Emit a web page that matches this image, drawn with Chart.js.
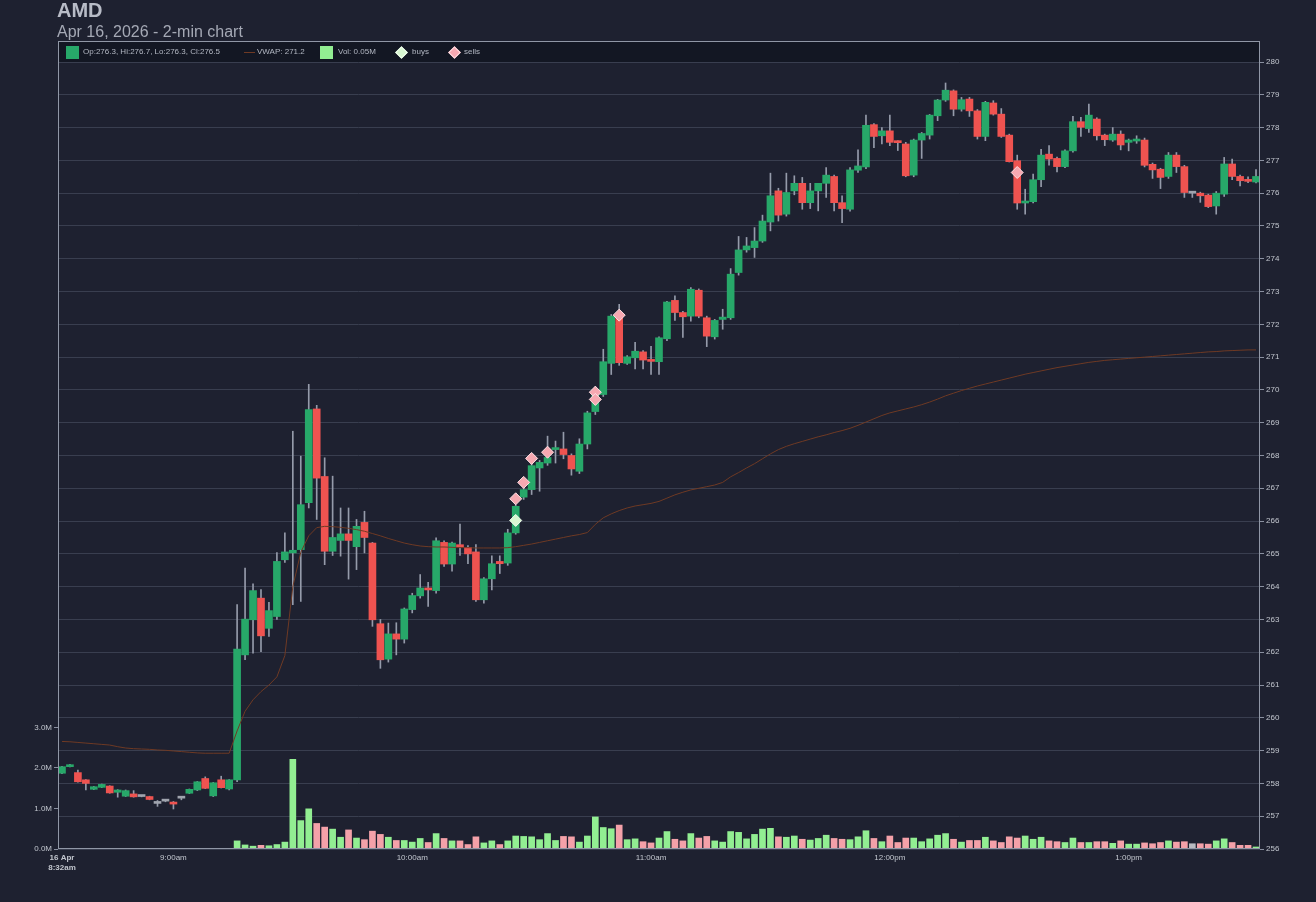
<!DOCTYPE html>
<html>
<head>
<meta charset="utf-8">
<title>AMD - 2-min chart</title>
<script src="https://cdn.jsdelivr.net/npm/chart.js@4.4.1/dist/chart.umd.min.js"></script>
<style>
  html, body { margin: 0; padding: 0; background: #1e2130; overflow: hidden; }
  body { width: 1316px; height: 902px; position: relative; font-family: "Liberation Sans", Arial, sans-serif; }
  #wrap { position: absolute; left: 0; top: 0; width: 1316px; height: 902px; }
  .abs { position: absolute; white-space: nowrap; z-index: 2; }
  #title { left: 57px; top: 0px; font-size: 20px; line-height: 20px; font-weight: bold; color: #b8bcc7; }
  #sub { left: 57px; top: 24px; font-size: 16px; line-height: 16px; color: #a5a9b5; }
  .lg { top: 47px; font-size: 8px; line-height: 10px; color: #b3b8c3; }
  .sq { top: 46px; width: 13px; height: 13px; }
  .dm { top: 48px; width: 9px; height: 9px; transform: rotate(45deg); box-sizing: border-box; }
  .ln { top: 52px; width: 11px; height: 1px; }
</style>
</head>
<body>
<div id="wrap"><canvas id="chart"></canvas></div>
<div id="title" class="abs">AMD</div>
<div id="sub" class="abs">Apr 16, 2026 - 2-min chart</div>
<div id="legend"></div>
<script>
// 2-min candles, 8:32am .. 1:32pm
const times = [];
for (let m = 8 * 60 + 32; m <= 13 * 60 + 32; m += 2) {
    const h = Math.floor(m / 60), mm = m % 60;
    times.push(`${h > 12 ? h - 12 : h}:${String(mm).padStart(2, '0')}${h >= 12 ? 'pm' : 'am'}`);
}

const opens = [
    258.31, 258.51, 258.33, 258.11, 257.82, 257.88, 257.92, 257.73, 257.61, 257.68,
    257.60, 257.60, 257.39, 257.46, 257.43, 257.55, 257.70, 257.80, 258.15, 257.62,
    258.11, 257.83, 258.11, 261.92, 262.99, 263.65, 262.73, 263.09, 264.82, 265.03,
    265.13, 266.56, 269.42, 267.36, 265.08, 265.41, 265.61, 265.22, 265.96, 265.33,
    262.87, 261.79, 262.56, 262.40, 263.30, 263.72, 263.92, 263.88, 265.35, 264.69,
    265.28, 265.20, 265.06, 263.60, 264.24, 264.77, 264.72, 265.64, 266.73, 266.96,
    267.62, 267.77, 268.18, 268.20, 268.00, 267.52, 268.35, 269.34, 269.86, 270.81,
    272.20, 270.81, 270.98, 271.16, 270.89, 270.86, 271.56, 272.73, 272.36, 272.25,
    273.04, 272.20, 271.62, 272.15, 272.20, 273.58, 274.27, 274.34, 274.54, 275.12,
    276.07, 275.36, 276.07, 276.30, 275.71, 276.07, 276.30, 276.51, 275.71, 275.51,
    276.70, 276.80, 278.09, 277.75, 277.90, 277.56, 277.50, 276.55, 277.62, 277.77,
    278.36, 278.84, 279.12, 278.56, 278.87, 278.51, 277.73, 278.75, 278.41, 277.77,
    276.99, 275.70, 275.74, 276.41, 277.19, 277.06, 276.81, 277.29, 278.18, 277.97,
    278.26, 277.77, 277.62, 277.80, 277.55, 277.59, 277.62, 276.88, 276.73, 276.51,
    277.16, 276.81, 276.00, 276.00, 275.94, 275.61, 275.97, 276.89, 276.51, 276.39,
    276.34
];
const highs = [
    258.52, 258.58, 258.41, 258.12, 257.91, 257.98, 257.93, 257.81, 257.80, 257.78,
    257.61, 257.61, 257.48, 257.50, 257.45, 257.60, 257.83, 258.06, 258.20, 258.03,
    258.22, 258.12, 263.45, 264.57, 264.09, 263.91, 263.52, 265.04, 265.64, 268.74,
    267.98, 270.17, 269.53, 267.93, 267.37, 266.40, 266.40, 266.05, 266.30, 265.35,
    263.00, 262.89, 262.90, 263.35, 263.80, 264.37, 264.13, 265.49, 265.40, 265.36,
    265.91, 265.25, 265.28, 264.28, 264.94, 264.94, 265.75, 266.50, 267.00, 267.75,
    267.85, 268.59, 268.44, 268.71, 268.05, 268.51, 269.35, 270.10, 271.24, 272.30,
    272.61, 271.05, 271.45, 271.20, 271.33, 271.62, 272.70, 272.87, 272.40, 273.12,
    273.08, 272.25, 272.15, 272.46, 273.70, 274.68, 274.65, 274.95, 275.33, 276.61,
    276.15, 276.61, 276.53, 276.48, 276.30, 276.30, 276.78, 276.55, 275.92, 276.78,
    277.32, 278.38, 278.12, 278.00, 278.38, 277.60, 277.55, 277.65, 277.85, 278.40,
    278.86, 279.36, 279.15, 278.92, 278.92, 278.55, 278.80, 278.82, 278.58, 277.80,
    277.16, 276.12, 276.58, 277.34, 277.45, 277.10, 277.32, 278.34, 278.31, 278.72,
    278.30, 277.80, 278.00, 277.90, 277.65, 277.75, 277.68, 276.92, 276.76, 277.24,
    277.24, 276.85, 276.05, 276.03, 275.97, 276.05, 277.09, 277.04, 276.55, 276.50,
    276.72
];
const lows = [
    258.30, 258.50, 258.04, 257.80, 257.81, 257.87, 257.70, 257.58, 257.60, 257.58,
    257.59, 257.50, 257.30, 257.44, 257.22, 257.50, 257.69, 257.78, 257.84, 257.60,
    257.86, 257.80, 258.05, 261.77, 261.97, 262.02, 262.48, 263.00, 264.74, 263.45,
    263.55, 266.40, 266.05, 264.67, 264.95, 264.93, 264.23, 264.52, 265.03, 262.79,
    261.51, 261.70, 261.92, 262.28, 263.20, 263.65, 263.40, 263.80, 264.62, 264.47,
    264.95, 264.70, 263.55, 263.50, 263.90, 264.40, 264.65, 265.60, 266.66, 266.81,
    266.91, 267.70, 267.77, 267.90, 267.40, 267.45, 268.20, 269.25, 269.80, 270.47,
    270.75, 270.78, 270.64, 270.64, 270.47, 270.47, 271.50, 272.12, 271.60, 272.10,
    272.20, 271.32, 271.55, 271.85, 272.15, 273.50, 274.20, 274.04, 274.50, 274.85,
    275.15, 275.30, 275.95, 275.51, 275.53, 275.46, 275.87, 275.46, 275.10, 275.45,
    276.63, 276.75, 277.39, 277.50, 277.45, 277.30, 276.50, 276.50, 277.06, 277.65,
    278.21, 278.80, 278.36, 278.50, 278.34, 277.65, 277.60, 278.38, 277.70, 276.95,
    275.51, 275.36, 275.70, 276.20, 276.85, 276.65, 276.78, 277.25, 277.73, 277.85,
    277.62, 277.45, 277.58, 277.32, 277.29, 277.52, 276.80, 276.45, 276.14, 276.45,
    276.63, 275.87, 275.87, 275.72, 275.56, 275.36, 275.90, 276.41, 276.22, 276.32,
    276.31
];
const closes = [
    258.51, 258.54, 258.05, 258.00, 257.90, 257.97, 257.71, 257.80, 257.78, 257.59,
    257.60, 257.51, 257.39, 257.46, 257.37, 257.55, 257.82, 258.05, 257.85, 258.02,
    257.87, 258.11, 262.10, 263.01, 263.88, 262.50, 263.27, 264.77, 265.06, 265.11,
    266.50, 269.40, 267.31, 265.08, 265.50, 265.61, 265.41, 265.84, 265.50, 262.99,
    261.77, 262.56, 262.40, 263.32, 263.73, 263.96, 263.90, 265.40, 264.69, 265.33,
    265.20, 265.00, 263.60, 264.24, 264.70, 264.70, 265.64, 266.45, 266.96, 267.69,
    267.79, 267.94, 268.22, 268.03, 267.59, 268.35, 269.30, 270.00, 270.86, 272.25,
    270.83, 271.01, 271.18, 270.91, 270.87, 271.59, 272.68, 272.36, 272.23, 273.07,
    272.25, 271.64, 272.12, 272.22, 273.53, 274.27, 274.39, 274.54, 275.15, 275.92,
    275.33, 276.02, 276.30, 275.71, 276.07, 276.30, 276.55, 275.71, 275.53, 276.71,
    276.83, 278.07, 277.73, 277.90, 277.55, 277.54, 276.53, 277.62, 277.82, 278.38,
    278.84, 279.14, 278.56, 278.85, 278.51, 277.73, 278.77, 278.41, 277.73, 276.96,
    275.70, 275.72, 276.41, 277.16, 277.04, 276.81, 277.29, 278.18, 278.01, 278.38,
    277.75, 277.63, 277.80, 277.47, 277.62, 277.65, 276.85, 276.71, 276.48, 277.16,
    276.81, 276.02, 276.00, 275.92, 275.59, 276.00, 276.89, 276.51, 276.38, 276.36,
    276.51
];
// volume in millions
const volumes = [
    0, 0, 0, 0, 0, 0, 0.01, 0.01, 0, 0,
    0, 0, 0, 0, 0.01, 0, 0, 0, 0, 0,
    0, 0, 0.20, 0.10, 0.07, 0.09, 0.08, 0.11, 0.17, 2.21,
    0.70, 0.99, 0.63, 0.54, 0.49, 0.29, 0.47, 0.27, 0.23, 0.44,
    0.36, 0.29, 0.21, 0.21, 0.17, 0.26, 0.16, 0.38, 0.26, 0.20,
    0.20, 0.11, 0.30, 0.15, 0.20, 0.11, 0.20, 0.32, 0.31, 0.30,
    0.23, 0.38, 0.21, 0.31, 0.30, 0.17, 0.32, 0.79, 0.53, 0.50,
    0.59, 0.23, 0.25, 0.18, 0.15, 0.27, 0.43, 0.24, 0.20, 0.38,
    0.27, 0.31, 0.20, 0.17, 0.43, 0.41, 0.25, 0.36, 0.49, 0.51,
    0.30, 0.29, 0.32, 0.24, 0.22, 0.26, 0.34, 0.26, 0.24, 0.23,
    0.30, 0.45, 0.26, 0.18, 0.32, 0.16, 0.27, 0.27, 0.18, 0.25,
    0.34, 0.38, 0.24, 0.17, 0.21, 0.21, 0.29, 0.20, 0.16, 0.30,
    0.27, 0.32, 0.24, 0.29, 0.20, 0.18, 0.16, 0.27, 0.16, 0.16,
    0.18, 0.18, 0.14, 0.20, 0.12, 0.12, 0.15, 0.13, 0.16, 0.20,
    0.17, 0.18, 0.13, 0.13, 0.12, 0.20, 0.25, 0.16, 0.09, 0.09,
    0.05
];
const vwap = [
    259.28, 259.27, 259.25, 259.23, 259.21, 259.19, 259.17, 259.12, 259.08, 259.06,
    259.05, 259.04, 259.02, 259.01, 258.99, 258.97, 258.95, 258.93, 258.92, 258.92,
    258.92, 258.92, 259.60, 260.20, 260.55, 260.80, 261.00, 261.25, 261.90, 264.00,
    265.05, 265.55, 265.80, 265.84, 265.83, 265.81, 265.78, 265.74, 265.69, 265.62,
    265.55, 265.47, 265.40, 265.33, 265.28, 265.24, 265.22, 265.21, 265.21, 265.20,
    265.19, 265.19, 265.18, 265.18, 265.18, 265.18, 265.19, 265.22, 265.26, 265.30,
    265.35, 265.40, 265.45, 265.50, 265.55, 265.59, 265.65, 265.90, 266.10, 266.22,
    266.32, 266.40, 266.46, 266.50, 266.54, 266.60, 266.70, 266.80, 266.88, 266.95,
    267.00, 267.05, 267.10, 267.18, 267.35, 267.48, 267.62, 267.75, 267.90, 268.05,
    268.18, 268.28, 268.36, 268.43, 268.50, 268.57, 268.63, 268.70, 268.76, 268.83,
    268.92, 269.02, 269.12, 269.22, 269.30, 269.36, 269.42, 269.48, 269.55, 269.63,
    269.72, 269.82, 269.90, 269.98, 270.05, 270.12, 270.18, 270.24, 270.30, 270.36,
    270.42, 270.48, 270.53, 270.58, 270.63, 270.68, 270.72, 270.76, 270.80, 270.84,
    270.87, 270.90, 270.92, 270.94, 270.96, 270.98, 271.00, 271.02, 271.04, 271.06,
    271.08, 271.10, 271.12, 271.14, 271.16, 271.17, 271.19, 271.20, 271.21, 271.22,
    271.22
];

// trade markers: candle index + price
const buyIdx = [57];
const buyPx = [266.02];
const sellIdx = [57, 58, 59, 61, 67, 67, 70, 120];
const sellPx = [266.68, 267.18, 267.91, 268.10, 269.93, 269.71, 272.28, 276.63];

// x tick labels (candle index -> text)
const tickIdx = [0, 14, 44, 74, 104, 134];
const tickLbl = [['16 Apr', '8:32am'], '9:00am', '10:00am', '11:00am', '12:00pm', '1:00pm'];

const UP = '#27a869', DOWN = '#ef5350', FLAT = '#a0a4ae';
const VOL_UP = '#92ee92', VOL_DOWN = '#f4a1a9', VOL_FLAT = '#b8bac0';
const GRID = '#393e4f';
const TICK_COL = '#c2c6ce';
const VWAP_COL = '#6f3a24';

const dir = opens.map((o, i) => Math.sign(closes[i] - o));
const candleColors = dir.map(d => d > 0 ? UP : d < 0 ? DOWN : FLAT);
const volColors = dir.map(d => d > 0 ? VOL_UP : d < 0 ? VOL_DOWN : VOL_FLAT);

// legend above the plot
const last = opens.length - 1;
const legendItems = [
    `<div class="abs sq" style="left:66px;background:${UP}"></div>`,
    `<div class="abs lg" style="left:83px">Op:${opens[last].toFixed(1)}, Hi:${highs[last].toFixed(1)}, Lo:${lows[last].toFixed(1)}, Cl:${closes[last].toFixed(1)}</div>`,
    `<div class="abs ln" style="left:244px;background:${VWAP_COL}"></div>`,
    `<div class="abs lg" style="left:257px">VWAP: ${vwap[last].toFixed(1)}</div>`,
    `<div class="abs sq" style="left:320px;background:${VOL_UP}"></div>`,
    `<div class="abs lg" style="left:338px">Vol: ${volumes[last].toFixed(2)}M</div>`,
    `<div class="abs dm" style="left:397px;background:#d8f7d1;border:1px solid #f2fff0"></div>`,
    `<div class="abs lg" style="left:412px">buys</div>`,
    `<div class="abs dm" style="left:450px;background:#f6a8b1;border:1px solid #ffe0e4"></div>`,
    `<div class="abs lg" style="left:464px">sells</div>`
];
document.getElementById('legend').innerHTML = legendItems.join('');

const framePlugin = {
    id: 'frame',
    beforeDraw(chart) {
        const { ctx, chartArea: a } = chart;
        ctx.save();
        ctx.fillStyle = '#131723';
        ctx.fillRect(a.left, a.top - 20, a.right - a.left, 20);
        ctx.restore();
    },
    afterDraw(chart) {
        const { ctx, chartArea: a } = chart;
        ctx.save();
        ctx.strokeStyle = '#9097a6';
        ctx.lineWidth = 1;
        ctx.strokeRect(a.left + 0.5, a.top - 20.5, a.right - a.left - 1, a.bottom - a.top + 20);
        ctx.restore();
    }
};

Chart.defaults.font.family = '"Liberation Sans", Arial, sans-serif';
Chart.defaults.font.size = 8;
Chart.defaults.color = TICK_COL;

const showTick = i => tickIdx.indexOf(i) > 0;

new Chart(document.getElementById('chart'), {
    type: 'bar',
    data: {
        labels: times,
        datasets: [
            {
                type: 'line',
                label: 'buys',
                data: buyIdx.map((k, j) => ({ x: times[k], y: buyPx[j] })),
                showLine: false,
                pointStyle: 'rectRot',
                pointRadius: 6,
                pointBackgroundColor: '#d8f7d1',
                pointBorderColor: '#f2fff0',
                pointBorderWidth: 1,
                yAxisID: 'yPrice',
                order: 0
            },
            {
                type: 'line',
                label: 'sells',
                data: sellIdx.map((k, j) => ({ x: times[k], y: sellPx[j] })),
                showLine: false,
                pointStyle: 'rectRot',
                pointRadius: 6,
                pointBackgroundColor: '#f6a8b1',
                pointBorderColor: '#ffe0e4',
                pointBorderWidth: 1,
                yAxisID: 'yPrice',
                order: 0
            },
            {
                type: 'line',
                label: 'VWAP',
                data: vwap,
                borderColor: VWAP_COL,
                borderWidth: 1,
                pointRadius: 0,
                tension: 0,
                yAxisID: 'yPrice',
                order: 1
            },
            {
                label: 'body',
                data: opens.map((o, i) => [o, closes[i]]),
                backgroundColor: candleColors,
                barThickness: 7,
                grouped: false,
                minBarLength: 2,
                yAxisID: 'yPrice',
                order: 2
            },
            {
                label: 'wick',
                data: lows.map((l, i) => [l, highs[i]]),
                backgroundColor: '#959baa',
                barThickness: 1,
                grouped: false,
                yAxisID: 'yPrice',
                order: 3
            },
            {
                label: 'volume',
                data: volumes,
                backgroundColor: volColors,
                barThickness: 6,
                grouped: false,
                yAxisID: 'yVol',
                order: 4
            }
        ]
    },
    options: {
        responsive: true,
        maintainAspectRatio: false,
        animation: false,
        layout: { padding: { top: 62, left: 0, right: 0, bottom: 0 } },
        plugins: {
            legend: { display: false },
            tooltip: { enabled: false }
        },
        scales: {
            x: {
                type: 'category',
                offset: true,
                border: { display: false },
                grid: {
                    offset: false,
                    color: c => showTick(c.index) ? GRID : 'rgba(0,0,0,0)',
                    tickColor: c => showTick(c.index) ? '#8a90a0' : 'rgba(0,0,0,0)',
                    tickLength: 3
                },
                ticks: {
                    autoSkip: false,
                    maxRotation: 0,
                    padding: 1,
                    color: TICK_COL,
                    font: c => c.index === 0 ? { size: 8, weight: 'bold' } : { size: 8 },
                    callback: (v, i) => {
                        const k = tickIdx.indexOf(i);
                        return k < 0 ? null : tickLbl[k];
                    }
                },
                afterFit: s => { s.height = 53; }
            },
            yPrice: {
                position: 'right',
                min: 256,
                max: 280,
                border: { display: false },
                grid: { color: GRID, tickColor: '#8a90a0', tickLength: 4 },
                ticks: { stepSize: 1, padding: 2, color: TICK_COL },
                afterFit: s => { s.width = 56; }
            },
            yVol: {
                position: 'left',
                min: 0,
                max: 19.4,
                border: { display: false },
                grid: { drawOnChartArea: false, tickColor: '#8a90a0', tickLength: 4 },
                ticks: {
                    stepSize: 1,
                    padding: 2,
                    color: TICK_COL,
                    callback: v => v <= 3 ? v.toFixed(1) + 'M' : null
                },
                afterFit: s => { s.width = 58; }
            }
        }
    },
    plugins: [framePlugin]
});
</script>
</body>
</html>
